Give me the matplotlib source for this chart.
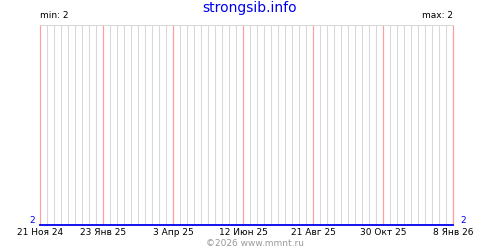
import pandas as pd
import matplotlib
matplotlib.use("Agg")
import matplotlib.pyplot as plt
import matplotlib.dates as mdates

# series: value stays at 2 the whole period
dates = pd.to_datetime(["2024-11-21", "2026-01-08"])
values = [2, 2]

# labelled dates on the x axis
tick_dates = pd.to_datetime(["2024-11-21", "2025-01-23", "2025-04-03", "2025-06-12",
                             "2025-08-21", "2025-10-30", "2026-01-08"])
tick_labels = ["21 Ноя 24", "23 Янв 25", "3 Апр 25", "12 Июн 25",
               "21 Авг 25", "30 Окт 25", "8 Янв 26"]

site = "strongsib.info"
min_val = 2
max_val = 2

plt.rcParams['font.family'] = ['DejaVu Sans']

fig = plt.figure(figsize=(5, 2.5), dpi=100)
ax = fig.add_axes([0.08, 0.1, 0.826, 0.8])

# weekly grid, labelled dates in pink
weeks = pd.date_range(dates[0], dates[-1], freq="7D")
plain = [mdates.date2num(d) for d in weeks if d not in tick_dates]
ax.vlines(plain, 0, 1, transform=ax.get_xaxis_transform(),
          colors="#d8d8d8", lw=0.75, zorder=1, snap=True)
ax.vlines(mdates.date2num(tick_dates), 0, 1, transform=ax.get_xaxis_transform(),
          colors="#ffa0a0", lw=0.9, zorder=2, snap=True, clip_on=False)

ax.plot(dates, values, color="#0000ee", lw=1.3, zorder=3, clip_on=False)

ax.set_xlim(dates[0], dates[-1])
ax.set_ylim(min_val, max_val + 1)

for s in ["left", "right", "bottom"]:
    ax.spines[s].set_visible(False)
ax.spines["top"].set_color("#d8d8d8")
ax.spines["top"].set_linewidth(0.75)

ax.set_yticks([])
ax.set_xticks(mdates.date2num(tick_dates))
ax.set_xticklabels(tick_labels, fontsize=6.5)
ax.tick_params(axis="x", length=0, pad=2)

fig.text(0.5, 0.968, site, ha="center", va="center", fontsize=10, color="#0000ee")
fig.text(0.08, 0.92, f"min: {min_val}", ha="left", va="bottom", fontsize=6.5)
fig.text(0.906, 0.92, f"max: {max_val}", ha="right", va="bottom", fontsize=6.5)
fig.text(0.07, 0.1, str(min_val), ha="right", va="bottom", fontsize=6.5, color="#0000ee")
fig.text(0.92, 0.1, str(max_val), ha="left", va="bottom", fontsize=6.5, color="#0000ee")
fig.text(0.51, 0.028, "©2026 www.mmnt.ru", ha="center", va="center", fontsize=6.5, color="#999999")

fig.savefig("out.png", dpi=100)
